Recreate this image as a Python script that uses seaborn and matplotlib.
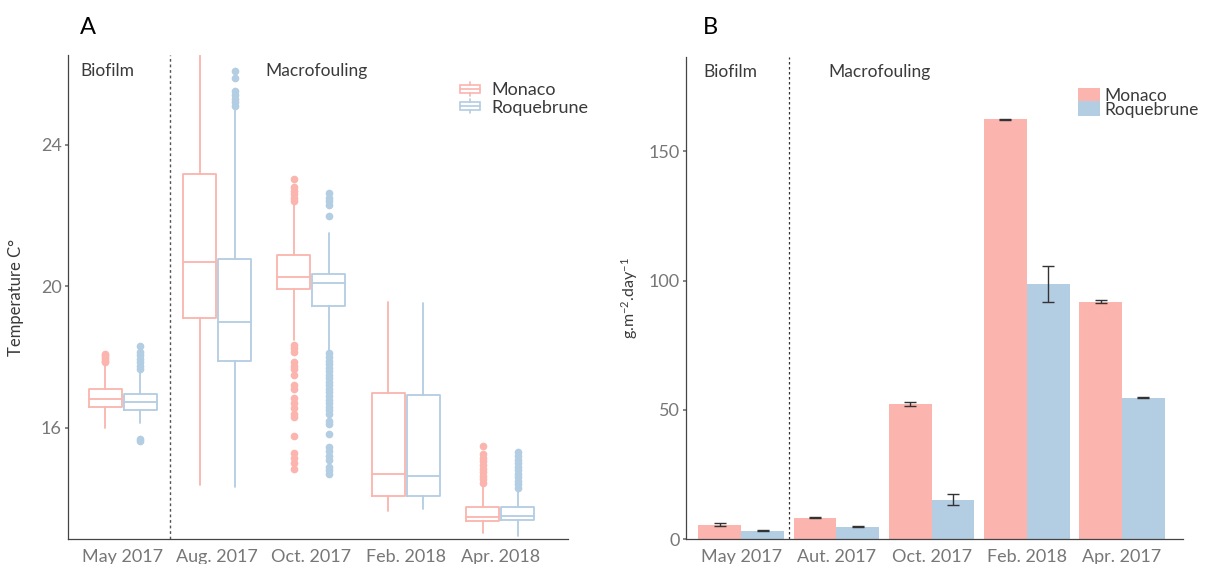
import numpy as np
import pandas as pd
import matplotlib
matplotlib.use("Agg")
import matplotlib.pyplot as plt
import seaborn as sns
from matplotlib.legend_handler import HandlerBase
from matplotlib.patches import Rectangle, Patch
from matplotlib.lines import Line2D

# Panel A: temperature box summaries
periods_A = ["May 2017", "Aug. 2017", "Oct. 2017", "Feb. 2018", "Apr. 2018"]
monaco_whislo = [15.99, 14.39, 18.48, 13.66, 13.02]
monaco_q1 = [16.60, 19.10, 19.92, 14.08, 13.37]
monaco_med = [16.82, 20.68, 20.25, 14.70, 13.49]
monaco_q3 = [17.09, 23.18, 20.89, 16.98, 13.76]
monaco_whishi = [17.82, 26.6, 22.36, 19.55, 14.37]
monaco_fliers = [
    [17.86, 17.90, 17.95, 18.00, 18.05, 18.08],
    [],
    [23.02, 22.80, 22.70, 22.60, 22.50, 22.42, 18.35, 18.25, 18.15, 17.85, 17.75,
     17.65, 17.50, 17.20, 17.10, 16.85, 16.70, 16.55, 16.40, 16.30, 15.77, 15.30,
     15.15, 15.00, 14.85],
    [],
    [14.45, 14.55, 14.65, 14.75, 14.85, 14.95, 15.05, 15.15, 15.25, 15.50],
]
roq_whislo = [16.15, 14.32, 18.15, 13.71, 12.95]
roq_q1 = [16.51, 17.88, 19.44, 14.07, 13.40]
roq_med = [16.72, 19.00, 20.08, 14.65, 13.51]
roq_q3 = [16.96, 20.78, 20.34, 16.92, 13.76]
roq_whishi = [17.59, 25.04, 21.49, 19.52, 14.23]
roq_fliers = [
    [17.65, 17.75, 17.85, 17.95, 18.05, 18.15, 18.32, 15.62, 15.68],
    [25.10, 25.20, 25.30, 25.40, 25.50, 25.88, 26.08],
    [22.63, 22.50, 22.40, 22.28, 21.99, 18.10, 18.00, 17.90, 17.80, 17.70, 17.60,
     17.50, 17.40, 17.30, 17.20, 17.10, 17.00, 16.90, 16.80, 16.70, 16.60, 16.50,
     16.40, 16.20, 16.10, 15.82, 15.46, 15.35, 15.20, 15.10, 14.90, 14.80, 14.70],
    [],
    [14.30, 14.40, 14.50, 14.60, 14.70, 14.80, 14.90, 15.00, 15.10, 15.20, 15.33],
]

# Panel B: fouling rates (mean and error)
periods_B = ["May 2017", "Aut. 2017", "Oct. 2017", "Feb. 2018", "Apr. 2017"]
monaco_rate = [5.6, 8.2, 52.3, 162.4, 91.8]
monaco_err = [0.5, 0.2, 0.9, 0.2, 0.6]
roq_rate = [3.2, 4.8, 15.2, 98.7, 54.6]
roq_err = [0.2, 0.2, 2.1, 7.0, 0.2]

sites = ["Monaco", "Roquebrune"]
palette = {"Monaco": "#FBB4AE", "Roquebrune": "#B3CDE3"}

sns.set_theme(style="white")
plt.rcParams["font.family"] = ["Lato", "DejaVu Sans"]
plt.rcParams["mathtext.fontset"] = "custom"
plt.rcParams["mathtext.rm"] = "Lato"
plt.rcParams["mathtext.it"] = "Lato"
txt = "#3a3a3a"
grey = "#777777"

W, H = 1207, 564
fig = plt.figure(figsize=(W / 100, H / 100), dpi=100)
axA = fig.add_axes([68 / W, 25 / H, 500 / W, 484 / H])
axB = fig.add_axes([686 / W, 25 / H, 497 / W, 482 / H])


class BoxHandler(HandlerBase):
    def create_artists(self, legend, orig_handle, xdescent, ydescent,
                       width, height, fontsize, trans):
        c = orig_handle.get_edgecolor()
        x0, y0 = -xdescent, -ydescent
        cx = x0 + width / 2
        box = Rectangle((x0 + width * 0.05, y0 + height * 0.2), width * 0.9, height * 0.6,
                        fc="white", ec=c, lw=1.2, transform=trans)
        med = Line2D([x0 + width * 0.05, x0 + width * 0.95], [y0 + height / 2] * 2,
                     color=c, lw=1.2, transform=trans)
        w1 = Line2D([cx, cx], [y0, y0 + height * 0.2], color=c, lw=1.2, transform=trans)
        w2 = Line2D([cx, cx], [y0 + height * 0.8, y0 + height], color=c, lw=1.2, transform=trans)
        return [box, med, w1, w2]


# ---- Panel A: boxplots from the summaries
site_stats = {
    "Monaco": (monaco_whislo, monaco_q1, monaco_med, monaco_q3, monaco_whishi, monaco_fliers),
    "Roquebrune": (roq_whislo, roq_q1, roq_med, roq_q3, roq_whishi, roq_fliers),
}
offsets = {"Monaco": -0.185, "Roquebrune": 0.185}
for site in sites:
    lo, q1, med, q3, hi, fl = site_stats[site]
    stats = [dict(whislo=lo[i], q1=q1[i], med=med[i], q3=q3[i], whishi=hi[i], fliers=fl[i])
             for i in range(len(periods_A))]
    c = palette[site]
    axA.bxp(stats, positions=np.arange(len(periods_A)) + offsets[site], widths=0.35,
            showcaps=False, patch_artist=False,
            boxprops=dict(color=c, lw=1.3), medianprops=dict(color=c, lw=1.3),
            whiskerprops=dict(color=c, lw=1.3),
            flierprops=dict(marker="o", markerfacecolor=c, markeredgecolor=c, markersize=4.5))

axA.set_xlim(-0.58, 4.72)
axA.set_ylim(12.86, 26.53)
axA.set_xticks(range(len(periods_A)))
axA.set_xticklabels(periods_A)
axA.set_yticks([16, 20, 24])
axA.axvline(0.5, color="#555555", lw=1, ls=(0, (2, 2)))
axA.set_ylabel("Temperature C°", fontsize=12, color=txt, labelpad=12)
axA.text(0.024, 0.967, "Biofilm", transform=axA.transAxes, fontsize=12.5, color=txt, va="center")
axA.text(0.394, 0.967, "Macrofouling", transform=axA.transAxes, fontsize=12.5, color=txt, va="center")
handlesA = [Patch(facecolor="white", edgecolor=palette[s], label=s) for s in sites]
axA.legend(handles=handlesA, loc="upper left", bbox_to_anchor=((443 - 68) / 500, (539 - 66) / 484),
           frameon=False, fontsize=13, handler_map={Patch: BoxHandler()},
           handlelength=1.2, handleheight=0.8, labelspacing=0.05, handletextpad=0.6,
           labelcolor=txt)

# ---- Panel B: bars with error bars
df = pd.DataFrame({
    "period": periods_B * 2,
    "rate": monaco_rate + roq_rate,
    "site": ["Monaco"] * len(periods_B) + ["Roquebrune"] * len(periods_B),
})
sns.barplot(data=df, x="period", y="rate", hue="site", order=periods_B, hue_order=sites,
            palette=palette, errorbar=None, width=0.9, saturation=1, ax=axB, legend=False,
            linewidth=0)
for cont, errs in zip(axB.containers, [monaco_err, roq_err]):
    xs = [b.get_x() + b.get_width() / 2 for b in cont]
    ys = [b.get_height() for b in cont]
    axB.errorbar(xs, ys, yerr=errs, fmt="none", ecolor="#333333", elinewidth=1,
                 capsize=4, capthick=1)

axB.set_xlim(-0.58, 4.64)
axB.set_ylim(0, 186.5)
axB.set_yticks([0, 50, 100, 150])
axB.set_xlabel("")
axB.set_ylabel(r"g.m$^{-2}$.day$^{-1}$", fontsize=11.5, color=txt, labelpad=6)
axB.axvline(0.5, color="#333333", lw=0.9, ls=(0, (2, 2)))
axB.text(0.034, 0.969, "Biofilm", transform=axB.transAxes, fontsize=12.5, color=txt, va="center")
axB.text(0.286, 0.969, "Macrofouling", transform=axB.transAxes, fontsize=12.5, color=txt, va="center")
handlesB = [Patch(facecolor=palette[s], edgecolor="none", label=s) for s in sites]
axB.legend(handles=handlesB, loc="upper left", bbox_to_anchor=((1062 - 686) / 497, (539 - 72) / 482),
           frameon=False, fontsize=12.5, handlelength=1.3, handleheight=0.95,
           labelspacing=-0.15, handletextpad=0.25, labelcolor=txt)

for ax in (axA, axB):
    sns.despine(ax=ax)
    for s in ("left", "bottom"):
        ax.spines[s].set_color("#444444")
        ax.spines[s].set_linewidth(0.9)
    ax.tick_params(axis="y", length=2.5, color=grey, labelcolor=grey, labelsize=13, pad=2, left=True)
    ax.tick_params(axis="x", length=0, labelcolor=grey, labelsize=13, pad=7)

fig.text(80 / W, 1 - 28 / H, "A", fontsize=17, color="black", va="center")
fig.text(703 / W, 1 - 28 / H, "B", fontsize=17, color="black", va="center")

fig.savefig("out.png", dpi=100, facecolor="white")
